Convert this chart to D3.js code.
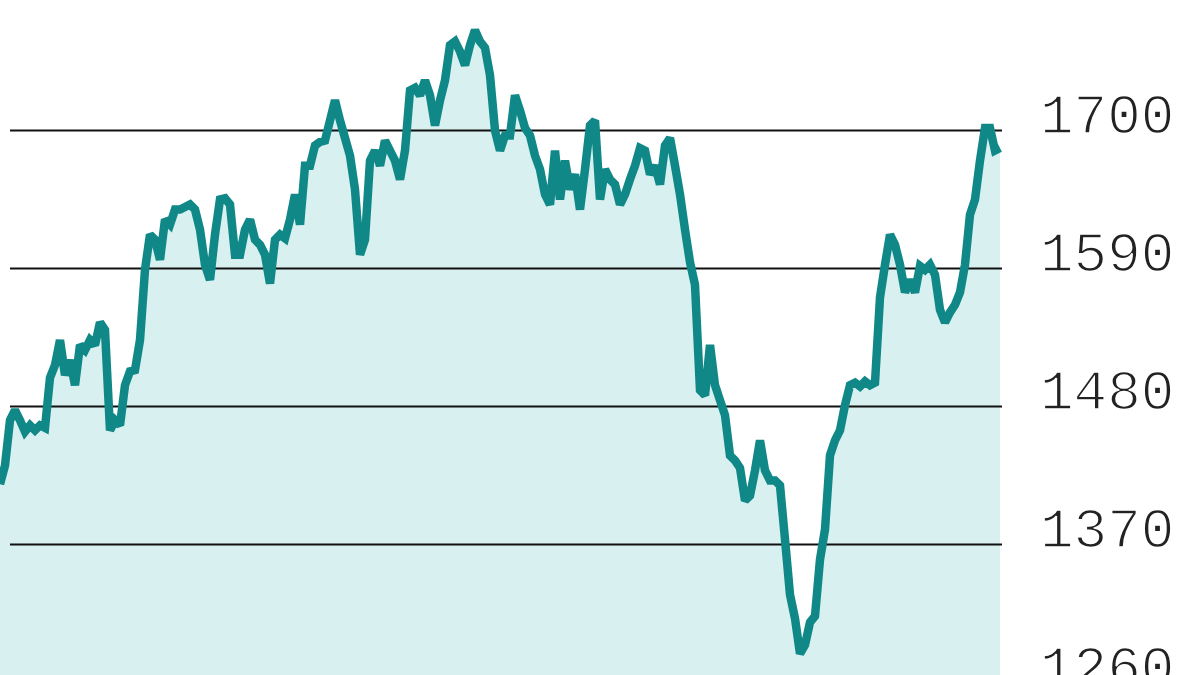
<!DOCTYPE html>
<html><head><meta charset="utf-8">
<script src="https://cdn.jsdelivr.net/npm/d3@7"></script>
<style>html,body{margin:0;padding:0;background:#fff;overflow:hidden}</style>
</head><body>
<svg id="c" width="1200" height="675"></svg>
<script>
// Index level, sampled at evenly spaced trading sessions
const values = [
1418,1433,1469,1477,1469,1460,1465,1461,1465,1463,
1503,1513,1533,1505,1517,1497,1529,1525,1533,1529,
1547,1541,1461,1469,1465,1497,1508,1509,1533,1589,
1617,1613,1597,1629,1625,1637,1637,1639,1641,1637,
1621,1593,1581,1617,1645,1646,1641,1601,1601,1621,
1629,1613,1609,1601,1578,1613,1617,1614,1629,1649,
1625,1672,1672,1688,1691,1692,1708,1724,1708,1694,
1680,1653,1601,1613,1676,1684,1672,1692,1684,1676,
1661,1684,1732,1734,1728,1740,1728,1704,1724,1740,
1768,1771,1763,1752,1768,1780,1771,1766,1744,1700,
1684,1696,1696,1728,1716,1702,1696,1680,1669,1649,
1641,1684,1645,1676,1653,1665,1637,1669,1704,1708,
1645,1669,1661,1657,1641,1649,1661,1672,1686,1684,
1665,1672,1657,1688,1694,1672,1649,1621,1595,1577,
1493,1489,1529,1497,1485,1473,1441,1437,1431,1405,
1409,1429,1453,1429,1421,1421,1417,1374,1330,1311,
1283,1290,1308,1313,1358,1382,1441,1453,1461,1481,
1497,1499,1496,1500,1497,1499,1567,1593,1617,1609,
1593,1571,1581,1571,1592,1589,1593,1585,1557,1547,
1555,1561,1571,1593,1633,1645,1676,1702,1702,1684,
1686
];
const sessions = values.map((v,i)=>i);
const tickValues = [1260,1370,1480,1590,1700,1810];
const tickLabels = ["1260","1370","1480","1590","1700","1810"];

const svg = d3.select("#c");
const x = d3.scaleLinear().domain([0, sessions.length-1]).range([0, 1000]);
const y = d3.scaleLinear().domain([1480, 1700]).range([406.5, 130.5]);
const data = sessions.map((s,i)=>({s, v: values[i]}));

svg.append("path").datum(data)
  .attr("fill","#d9f0f0")
  .attr("d", d3.area().x(d=>x(d.s)).y0(675).y1(d=>y(d.v)));

const grid = svg.append("g");
grid.selectAll("line").data(tickValues).join("line")
  .attr("x1",10).attr("x2",1002)
  .attr("y1",d=>y(d)).attr("y2",d=>y(d))
  .attr("stroke","#111").attr("stroke-width",2);

svg.append("path").datum(data)
  .attr("fill","none").attr("stroke","#118888").attr("stroke-width",8.5)
  .attr("stroke-linejoin","miter").attr("stroke-miterlimit",2)
  .attr("d", d3.line().x(d=>x(d.s)).y(d=>y(d.v)));

svg.append("g").selectAll("text").data(tickValues).join("text")
  .attr("x",1040).attr("y",d=>y(d)+2)
  .attr("font-family","'Liberation Mono', monospace")
  .attr("font-size",56).attr("fill","#222")
  .attr("stroke","#fff").attr("stroke-width",1.6)
  .text((d,i)=>tickLabels[i]);
</script>
</body></html>
